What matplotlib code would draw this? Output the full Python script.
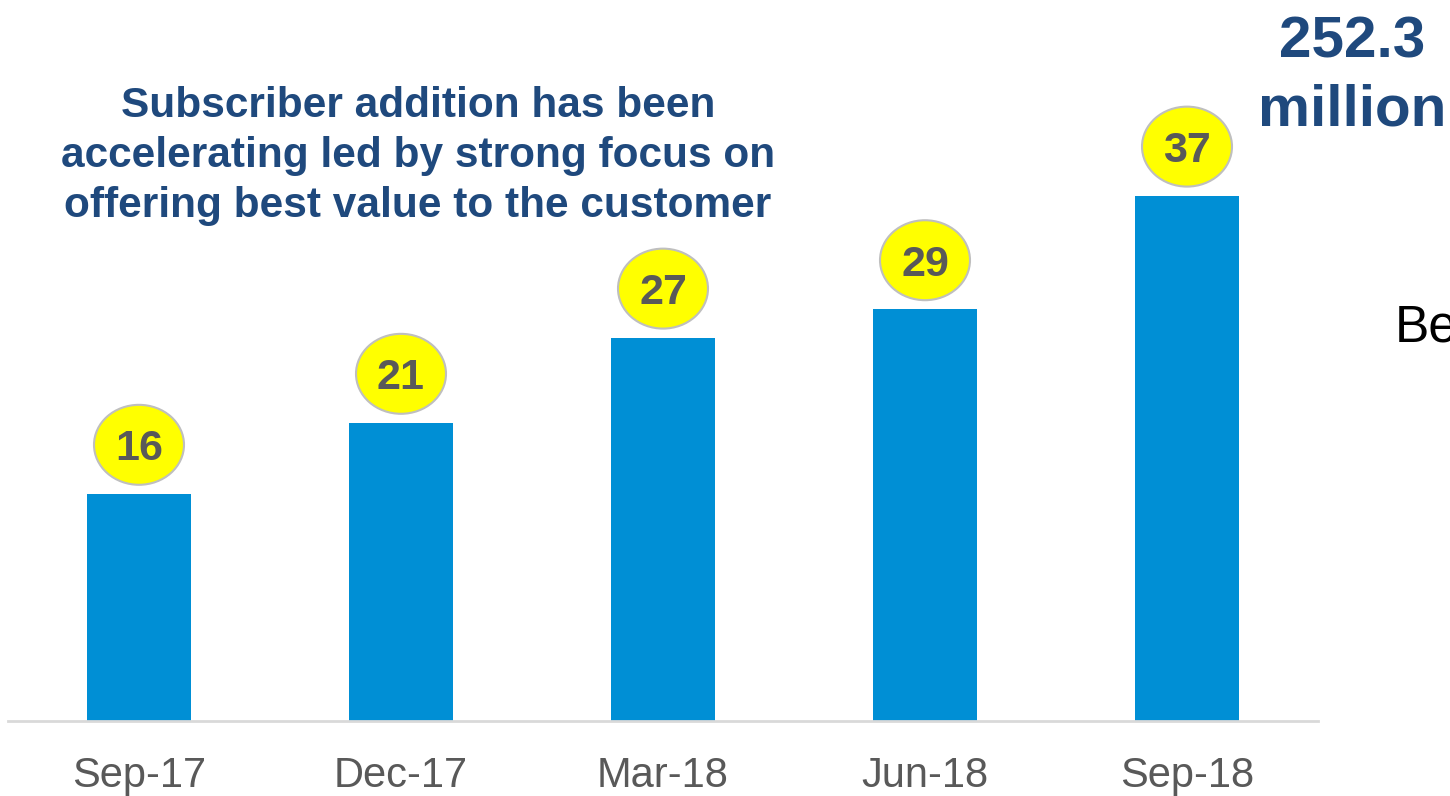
import matplotlib.pyplot as plt
from matplotlib.patches import Ellipse

plt.rcParams['font.family'] = ['Liberation Sans', 'DejaVu Sans']

quarters = ['Sep-17', 'Dec-17', 'Mar-18', 'Jun-18', 'Sep-18']
net_adds = [16, 21, 27, 29, 37]

headline = ['Subscriber addition has been',
            'accelerating led by strong focus on',
            'offering best value to the customer']
total_lines = ['252.3', 'million']

BAR_BLUE = '#008FD5'
NAVY = '#1F497D'
GREY_TEXT = '#595959'

W, H = 1450, 796
fig = plt.figure(figsize=(W / 100, H / 100), dpi=100)
# plotting band: left edge 8px, right edge 1318px, baseline at y=721px
ax = fig.add_axes([8 / W, 75 / H, 1310 / W, 721 / H])

x = range(len(quarters))
ax.bar(x, net_adds, width=0.397, color=BAR_BLUE, zorder=2)

ax.set_xlim(-0.5, len(quarters) - 0.5)
ax.set_ylim(0, 721 / 14.2)

# yellow bubbles with the value above each bar
for i, v in enumerate(net_adds):
    cy = v + 3.45
    ax.add_patch(Ellipse((i, cy), 0.3435, 5.63, facecolor='#FFFF00',
                         edgecolor='#BFBFBF', linewidth=1.5, zorder=3))
    ax.text(i, cy, str(v), ha='center', va='center_baseline', fontsize=31,
            fontweight='bold', color=GREY_TEXT, zorder=4)

for s in ['top', 'left', 'right']:
    ax.spines[s].set_visible(False)
ax.spines['bottom'].set_color('#D9D9D9')
ax.spines['bottom'].set_linewidth(2)
ax.set_yticks([])
ax.set_xticks(list(x))
ax.set_xticklabels(quarters, fontsize=30, color=GREY_TEXT)
ax.tick_params(axis='x', length=0, pad=25)


def px(xp, yp):
    return xp / W, 1 - yp / H


for k, line in enumerate(headline):
    fig.text(*px(418, 117 + 50 * k), line, ha='center', va='baseline',
             fontsize=30.5, fontweight='bold', color=NAVY)

for k, line in enumerate(total_lines):
    fig.text(*px(1352, 57 + 68 * k), line, ha='center', va='baseline',
             fontsize=42, fontweight='bold', color=NAVY)

# side caption runs off the right edge of the slide
fig.text(*px(1395, 342), 'Be', ha='left', va='baseline',
         fontsize=37, color='black')

fig.savefig('out.png', dpi=100)
